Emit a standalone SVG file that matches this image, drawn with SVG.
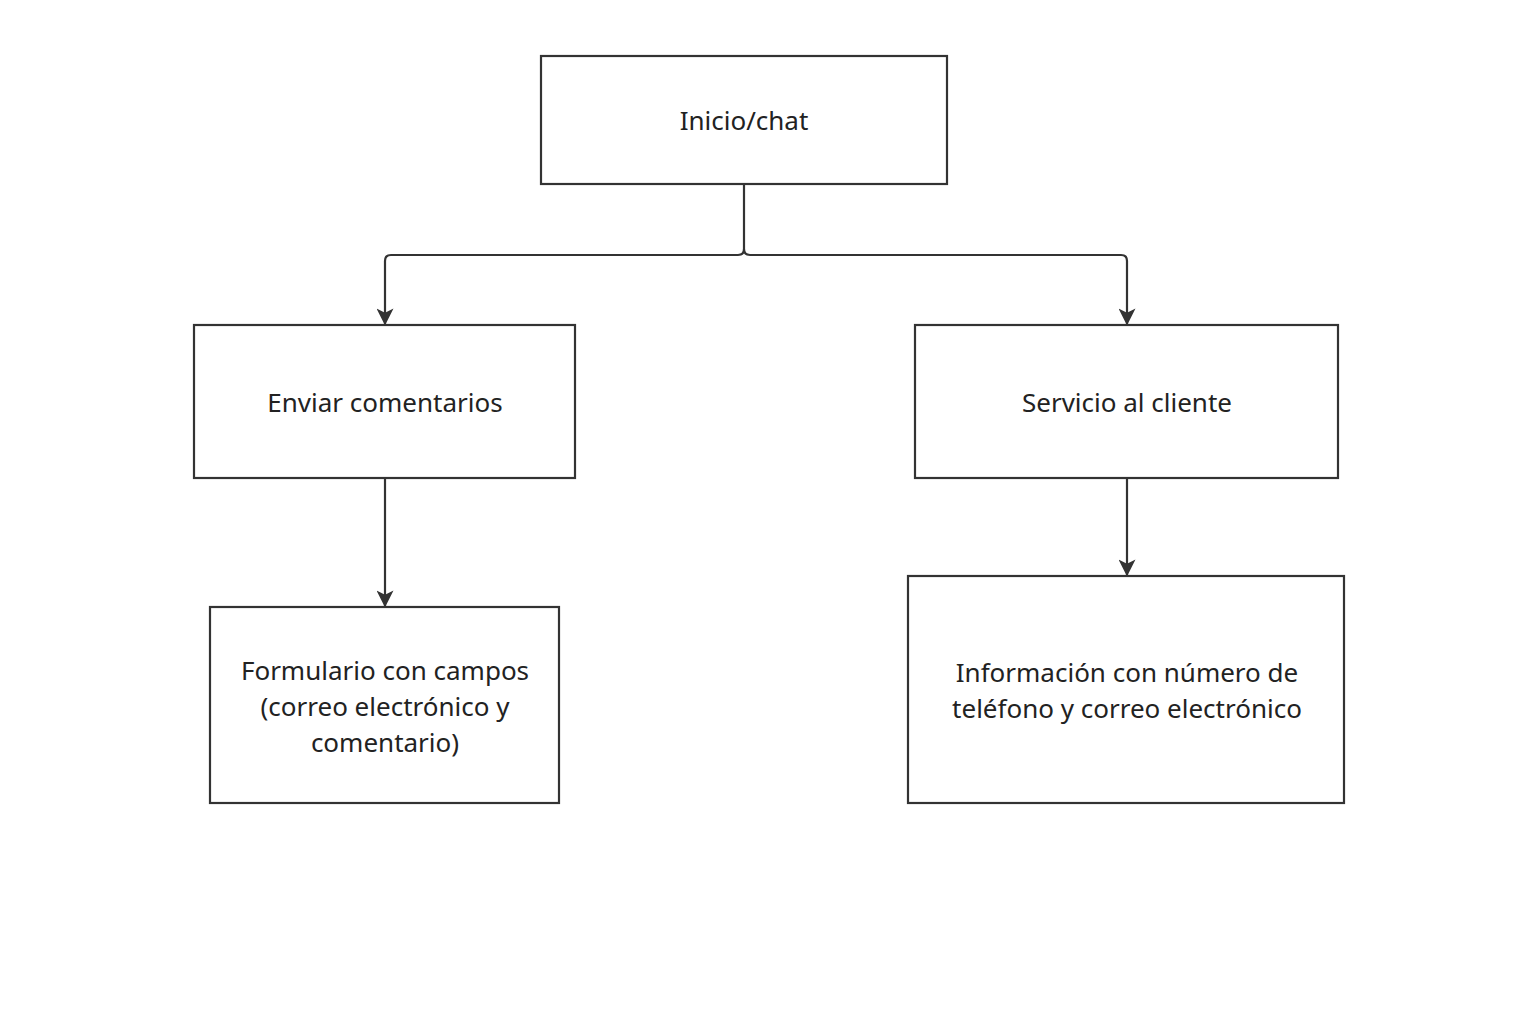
<svg xmlns="http://www.w3.org/2000/svg" width="1521" height="1026" viewBox="0 0 1521 1026">
<defs>
<style>
.box{fill:#fff;stroke:#333;stroke-width:2.2}
.t{font-family:"Noto Sans","Open Sans",sans-serif;font-size:26px;fill:#222;text-anchor:middle;dominant-baseline:central}
.c{fill:none;stroke:#333;stroke-width:2.2}
</style>
<marker id="a" viewBox="0 0 12 12" refX="11" refY="6" markerWidth="17" markerHeight="17" markerUnits="userSpaceOnUse" orient="auto"><path d="M0,0 L12,6 L0,12 L3,6 z" fill="#333"/></marker>
</defs>
<rect width="1521" height="1026" fill="#fff"/>
<g id="connectors">
<path class="c" d="M744,185 V249 Q744,255 738,255 H391 Q385,255 385,261 V324" marker-end="url(#a)"/>
<path class="c" d="M744,249 Q744,255 750,255 H1121 Q1127,255 1127,261 V324" marker-end="url(#a)"/>
<path class="c" d="M385,479 V606" marker-end="url(#a)"/>
<path class="c" d="M1127,479 V575" marker-end="url(#a)"/>
</g>
<g id="inicio"><rect class="box" x="541" y="56" width="406" height="128"/><text class="t" x="744" y="120">Inicio/chat</text></g>
<g id="enviar"><rect class="box" x="194" y="325" width="381" height="153"/><text class="t" x="385" y="402">Enviar comentarios</text></g>
<g id="servicio"><rect class="box" x="915" y="325" width="423" height="153"/><text class="t" x="1127" y="402">Servicio al cliente</text></g>
<g id="formulario"><rect class="box" x="210" y="607" width="349" height="196"/><text class="t" x="385" y="670">Formulario con campos</text><text class="t" x="385" y="706">(correo electrónico y</text><text class="t" x="385" y="742">comentario)</text></g>
<g id="informacion"><rect class="box" x="908" y="576" width="436" height="227"/><text class="t" x="1127" y="672">Información con número de</text><text class="t" x="1127" y="708">teléfono y correo electrónico</text></g>
</svg>
